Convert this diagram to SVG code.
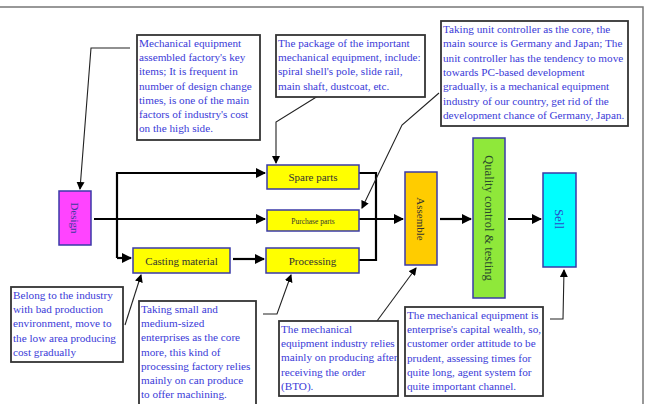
<svg xmlns="http://www.w3.org/2000/svg" width="655" height="404" viewBox="0 0 655 404">
<defs>
<marker id="ah" markerWidth="10" markerHeight="10" refX="9" refY="5" orient="auto" markerUnits="userSpaceOnUse">
<path d="M0,0 L10,5 L0,10 z" fill="#000"/>
</marker>
<marker id="ahs" markerWidth="8" markerHeight="8" refX="7" refY="4" orient="auto" markerUnits="userSpaceOnUse">
<path d="M0,0 L8,4 L0,8 z" fill="#000"/>
</marker>
<style>
.note{fill:#fff;stroke:#333;stroke-width:1.8}
.nt{font-family:"Liberation Serif","Times New Roman",serif;font-size:11.2px;fill:#3a3ad8}
.node{stroke:#3a3aa8;stroke-width:1.5}
.lbl{font-family:"Liberation Serif","Times New Roman",serif;font-size:11px;fill:#333;text-anchor:middle;dominant-baseline:central}
.flow{fill:none;stroke:#000;stroke-width:2.2}
.thin{fill:none;stroke:#222;stroke-width:1.1}
</style>
</defs>
<rect width="655" height="404" fill="#fff"/>
<path d="M0,7 H643 V404" fill="none" stroke="#777" stroke-width="1.5"/>

<g id="connectors">
<path class="flow" d="M94,219 H265" marker-end="url(#ah)"/>
<path class="flow" d="M117,258 V173 H265" marker-end="url(#ah)"/>
<path class="flow" d="M117,258 H131" marker-end="url(#ah)"/>
<path class="flow" d="M233,259 H264" marker-end="url(#ah)"/>
<path class="flow" d="M359,173 H376 V260 H359"/>
<path class="flow" d="M359,219 H403" marker-end="url(#ah)"/>
<path class="flow" d="M440,219 H471" marker-end="url(#ah)"/>
<path class="flow" d="M508,219 H541" marker-end="url(#ah)"/>
<path class="thin" d="M130,48 H91 L80,189" marker-end="url(#ahs)"/>
<path class="thin" d="M318,96 L276,122 V163" marker-end="url(#ahs)"/>
<path class="thin" d="M439,93 L402,125 L362,208" marker-end="url(#ahs)"/>
<path class="thin" d="M125,325 L141,275" marker-end="url(#ahs)"/>
<path class="thin" d="M263,314 H277 L291,275" marker-end="url(#ahs)"/>
<path class="thin" d="M377,321 L416,268" marker-end="url(#ahs)"/>
<path class="thin" d="M550,319 H563 L564,270" marker-end="url(#ahs)"/>
</g>

<g id="design">
<rect class="node" x="59" y="191" width="32" height="54" fill="#ff44ff"/>
<text class="lbl" transform="translate(75,218) rotate(90)" style="fill:#3a3a9a">Design</text>
</g>
<g id="spare-parts">
<rect class="node" x="267" y="165" width="92" height="24" fill="#ffff00"/>
<text class="lbl" x="313" y="177">Spare parts</text>
</g>
<g id="purchase-parts">
<rect class="node" x="267" y="210" width="92" height="21" fill="#ffff00"/>
<text class="lbl" x="313" y="221" style="font-size:7.5px">Purchase parts</text>
</g>
<g id="casting-material">
<rect class="node" x="133" y="248" width="97" height="25" fill="#ffff00"/>
<text class="lbl" x="181.5" y="260.5">Casting material</text>
</g>
<g id="processing">
<rect class="node" x="266" y="248" width="93" height="25" fill="#ffff00"/>
<text class="lbl" x="312.5" y="260.5">Processing</text>
</g>
<g id="assemble">
<rect class="node" x="405" y="172" width="32" height="93" fill="#ffcc00"/>
<text class="lbl" transform="translate(421,219) rotate(90)">Assemble</text>
</g>
<g id="quality">
<rect class="node" x="473" y="138" width="32" height="160" fill="#8fe83a"/>
<text class="lbl" transform="translate(489,218) rotate(90)" style="fill:#2a4a2a;font-size:12.5px">Quality control &amp; testing</text>
</g>
<g id="sell">
<rect class="node" x="543" y="173" width="33" height="94" fill="#00ffff"/>
<text class="lbl" transform="translate(559.5,219) rotate(90)" style="fill:#2a4ac8;font-size:13px">Sell</text>
</g>

<g id="note-design">
<rect class="note" x="137" y="35" width="123" height="105"/>
<text class="nt" x="139" y="47">
<tspan x="139">Mechanical equipment</tspan>
<tspan x="139" dy="14.2">assembled factory's key</tspan>
<tspan x="139" dy="14.2">items; It is frequent in</tspan>
<tspan x="139" dy="14.2">number of design change</tspan>
<tspan x="139" dy="14.2">times, is one of the main</tspan>
<tspan x="139" dy="14.2">factors of industry's cost</tspan>
<tspan x="139" dy="14.2">on the high side.</tspan>
</text>
</g>
<g id="note-package">
<rect class="note" x="276" y="35" width="149" height="62"/>
<text class="nt" x="278" y="47">
<tspan x="278">The package of the important</tspan>
<tspan x="278" dy="14.2">mechanical equipment, include:</tspan>
<tspan x="278" dy="14.2">spiral shell's pole, slide rail,</tspan>
<tspan x="278" dy="14.2">main shaft, dustcoat, etc.</tspan>
</text>
</g>
<g id="note-controller">
<rect class="note" x="441" y="21" width="187" height="105"/>
<text class="nt" x="443" y="33">
<tspan x="443">Taking unit controller as the core, the</tspan>
<tspan x="443" dy="14.3">main source is Germany and Japan; The</tspan>
<tspan x="443" dy="14.3">unit controller has the tendency to move</tspan>
<tspan x="443" dy="14.3">towards PC-based development</tspan>
<tspan x="443" dy="14.3">gradually, is a mechanical equipment</tspan>
<tspan x="443" dy="14.3">industry of our country, get rid of the</tspan>
<tspan x="443" dy="14.3">development chance of Germany, Japan.</tspan>
</text>
</g>
<g id="note-casting">
<rect class="note" x="11" y="287" width="112" height="75"/>
<text class="nt" x="13" y="299">
<tspan x="13">Belong to the industry</tspan>
<tspan x="13" dy="14.2">with bad production</tspan>
<tspan x="13" dy="14.2">environment, move to</tspan>
<tspan x="13" dy="14.2">the low area producing</tspan>
<tspan x="13" dy="14.2">cost gradually</tspan>
</text>
</g>
<g id="note-processing">
<rect class="note" x="139" y="301" width="117" height="105"/>
<text class="nt" x="141" y="313">
<tspan x="141">Taking small and</tspan>
<tspan x="141" dy="14.2">medium-sized</tspan>
<tspan x="141" dy="14.2">enterprises as the core</tspan>
<tspan x="141" dy="14.2">more, this kind of</tspan>
<tspan x="141" dy="14.2">processing factory relies</tspan>
<tspan x="141" dy="14.2">mainly on can produce</tspan>
<tspan x="141" dy="14.2">to offer machining.</tspan>
</text>
</g>
<g id="note-bto">
<rect class="note" x="279" y="321" width="119" height="75"/>
<text class="nt" x="281" y="333">
<tspan x="281">The mechanical</tspan>
<tspan x="281" dy="14.2">equipment industry relies</tspan>
<tspan x="281" dy="14.2">mainly on producing after</tspan>
<tspan x="281" dy="14.2">receiving the order</tspan>
<tspan x="281" dy="14.2">(BTO).</tspan>
</text>
</g>
<g id="note-sell">
<rect class="note" x="405" y="307" width="138" height="89"/>
<text class="nt" x="407" y="319">
<tspan x="407">The mechanical equipment is</tspan>
<tspan x="407" dy="14.2">enterprise's capital wealth, so,</tspan>
<tspan x="407" dy="14.2">customer order attitude to be</tspan>
<tspan x="407" dy="14.2">prudent, assessing times for</tspan>
<tspan x="407" dy="14.2">quite long, agent system for</tspan>
<tspan x="407" dy="14.2">quite important channel.</tspan>
</text>
</g>
</svg>
